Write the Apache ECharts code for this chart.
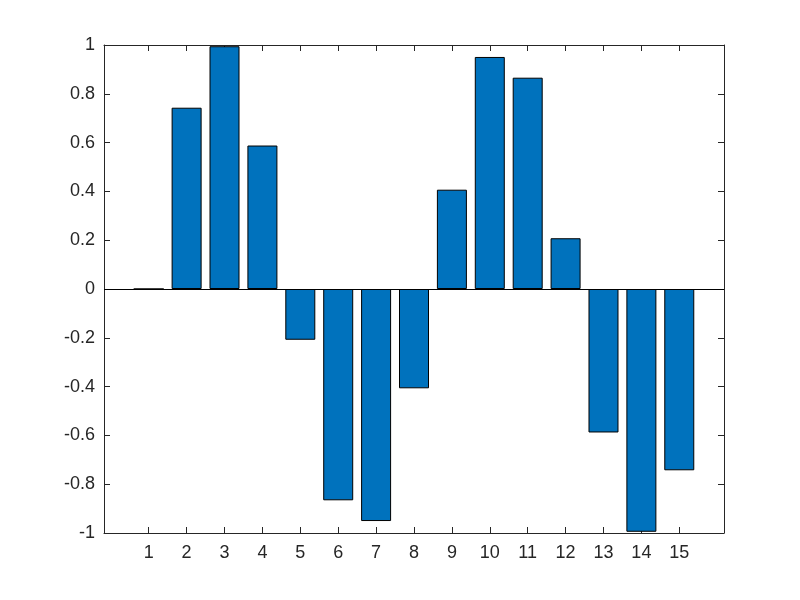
<!DOCTYPE html>
<html>
<head>
<meta charset="utf-8">
<script src="https://cdn.jsdelivr.net/npm/echarts@6/dist/echarts.min.js"></script>
<style>
  html, body { margin: 0; padding: 0; background: #fff; }
  #chart { width: 800px; height: 600px; }
</style>
</head>
<body>
<div id="chart"></div>
<script>
const positions = [1, 2, 3, 4, 5, 6, 7, 8, 9, 10, 11, 12, 13, 14, 15];
const values = [0, 0.743, 0.995, 0.588, -0.208, -0.866, -0.951, -0.407,
  0.407, 0.951, 0.866, 0.208, -0.588, -0.995, -0.743];
const xTicks = [1, 2, 3, 4, 5, 6, 7, 8, 9, 10, 11, 12, 13, 14, 15];

const axisColor = "#262626";
const font = "Liberation Sans, Arial, sans-serif";

const chart = echarts.init(document.getElementById("chart"));

const xBase = {
  type: "value",
  min: -0.18,
  max: 16.18,
  splitLine: { show: false },
  axisLine: { show: true, onZero: false, lineStyle: { color: axisColor, width: 1 } },
  axisTick: { show: true, inside: true, length: 6, customValues: xTicks, lineStyle: { color: axisColor } }
};

const yBase = {
  type: "value",
  min: -1,
  max: 1,
  interval: 0.2,
  splitLine: { show: false },
  axisLine: { show: true, onZero: false, lineStyle: { color: axisColor, width: 1 } },
  axisTick: { show: true, inside: true, length: 6, lineStyle: { color: axisColor } }
};

chart.setOption({
  animation: false,
  backgroundColor: "#fff",
  grid: { left: 104, right: 76, top: 45, bottom: 67, containLabel: false },
  xAxis: [
    Object.assign({}, xBase, {
      position: "bottom",
      axisLabel: {
        customValues: xTicks,
        color: axisColor, fontSize: 18, fontFamily: font, margin: 11
      }
    }),
    Object.assign({}, xBase, { position: "top", axisLabel: { show: false } })
  ],
  yAxis: [
    Object.assign({}, yBase, {
      position: "left",
      axisLabel: {
        color: axisColor, fontSize: 18, fontFamily: font, margin: 9,
        formatter: (v) => String(Math.round(v * 10) / 10)
      }
    }),
    Object.assign({}, yBase, { position: "right", axisLabel: { show: false } })
  ],
  series: [
    {
      type: "bar",
      xAxisIndex: 0,
      yAxisIndex: 0,
      data: positions.map((p, i) => [p, values[i]]),
      barWidth: 30,
      itemStyle: { color: "#0072BD", borderColor: "#000", borderWidth: 1 },
      markLine: {
        silent: true,
        symbol: "none",
        label: { show: false },
        lineStyle: { color: "#000", width: 1, type: "solid" },
        data: [{ yAxis: 0 }]
      }
    }
  ]
});
</script>
</body>
</html>
